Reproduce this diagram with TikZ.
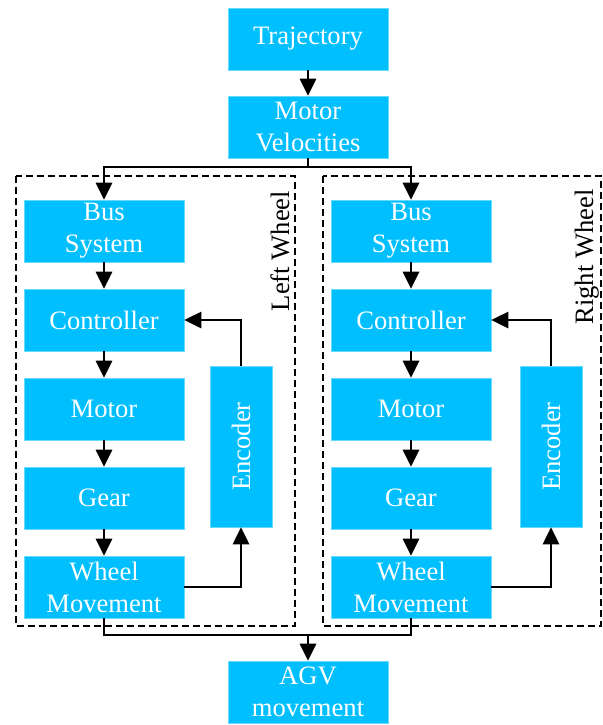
\documentclass[tikz,border=0pt]{standalone}
\usepackage{fontspec}
\setmainfont{Liberation Serif}
\usetikzlibrary{arrows.meta,positioning}
\definecolor{boxblue}{RGB}{0,191,255}

\begin{document}
\begin{tikzpicture}[
    x=0.5pt, y=-0.5pt,
    blk/.style={fill=boxblue, draw=boxblue!60!white, line width=0.3pt, text=white, align=center,
        minimum width=80pt, minimum height=31pt, inner sep=1pt,
        font=\fontsize{13.3}{16}\selectfont},
    enc/.style={blk, minimum width=80.5pt, minimum height=31pt, rotate=90},
    arr/.style={-{Triangle[length=8.5pt,width=8pt]}, line width=1.4pt},
    lin/.style={line width=1.4pt},
    grp/.style={draw, line width=1.2pt, dash pattern=on 3.5pt off 2pt},
    side/.style={rotate=90, font=\fontsize{13.3}{16}\selectfont}
]
\useasboundingbox (0,0) rectangle (603,725);

% top
\node[blk] (traj) at (308,39) {Trajectory};
\node[blk] (vel) at (308,127) {Motor\\Velocities};
\coordinate (split) at (308,167);

% wheel groups
\draw[grp] (16,176) rectangle (295,626);
\draw[grp] (323,176) rectangle (601,626);
\node[side] (llab) at (280,251) {Left Wheel};
\node[side] (rlab) at (587,257) {Right Wheel};

% left wheel
\node[blk] (lbus) at (104,231) {Bus\\System};
\node[blk] (lctrl) at (104,320) {Controller};
\node[blk] (lmot) at (104,409) {Motor};
\node[blk] (lgear) at (104,498) {Gear};
\node[blk] (lwheel) at (104,587) {Wheel\\Movement};
\node[enc] (lenc) at (241,446.5) {Encoder};

% right wheel
\node[blk] (rbus) at (411,231) {Bus\\System};
\node[blk] (rctrl) at (411,320) {Controller};
\node[blk] (rmot) at (411,409) {Motor};
\node[blk] (rgear) at (411,498) {Gear};
\node[blk] (rwheel) at (411,587) {Wheel\\Movement};
\node[enc] (renc) at (551,446.5) {Encoder};

% bottom
\coordinate (merge) at (308,635);
\node[blk] (agv) at (308,692) {AGV\\movement};

\draw[arr] (traj) -- (vel);
\draw[lin] (vel.south) -- (split);
\draw[arr] (split) -| (lbus.north);
\draw[arr] (split) -| (rbus.north);

\draw[arr] (lbus) -- (lctrl);
\draw[arr] (lctrl) -- (lmot);
\draw[arr] (lmot) -- (lgear);
\draw[arr] (lgear) -- (lwheel);
\draw[arr] (lwheel.east) -| (lenc.west);
\draw[arr] (lenc.east) |- (lctrl.east);

\draw[arr] (rbus) -- (rctrl);
\draw[arr] (rctrl) -- (rmot);
\draw[arr] (rmot) -- (rgear);
\draw[arr] (rgear) -- (rwheel);
\draw[arr] (rwheel.east) -| (renc.west);
\draw[arr] (renc.east) |- (rctrl.east);

\draw[lin] (lwheel.south) |- (merge) -| (rwheel.south);
\draw[arr] (merge) -- (agv.north);
\end{tikzpicture}
\end{document}
